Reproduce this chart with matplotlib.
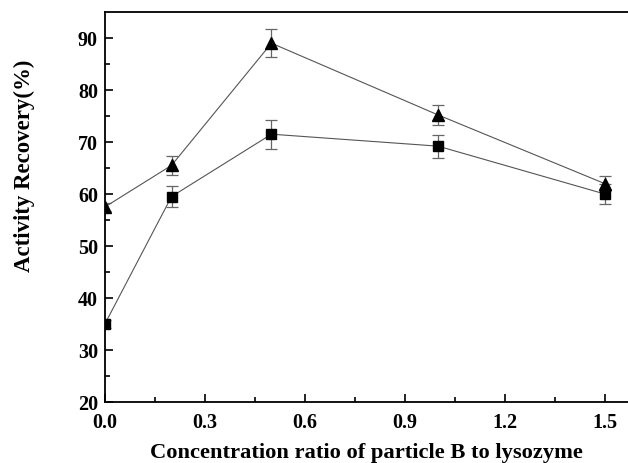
import matplotlib.pyplot as plt

ratio = [0.0, 0.2, 0.5, 1.0, 1.5]
tri_vals = [57.5, 65.5, 89.0, 75.2, 62.0]
tri_err = [0.8, 1.9, 2.7, 2.0, 1.5]
sq_vals = [35.0, 59.5, 71.5, 69.2, 60.0]
sq_err = [0.8, 2.0, 2.8, 2.2, 1.9]

plt.rcParams["font.family"] = ["Liberation Serif", "DejaVu Serif"]
plt.rcParams["font.weight"] = "bold"

fig = plt.figure(figsize=(6.28, 4.64), dpi=100)
ax = fig.add_axes([0.167, 0.1315, 0.833, 0.8405])

for vals, err, mk, ms in [(tri_vals, tri_err, "^", 8.5), (sq_vals, sq_err, "s", 7)]:
    ax.errorbar(ratio, vals, yerr=err, color="#555555", lw=0.8,
                marker=mk, ms=ms, mfc="black", mec="black",
                ecolor="#666666", elinewidth=0.9, capsize=4, capthick=0.9,
                zorder=3)

ax.set_xlim(0, 1.57)
ax.set_ylim(20, 95)
ax.set_xticks([0.0, 0.3, 0.6, 0.9, 1.2, 1.5])
ax.set_xticks([0.15, 0.45, 0.75, 1.05, 1.35], minor=True)
ax.set_yticks(range(20, 91, 10))
ax.set_yticks(range(25, 91, 10), minor=True)
ax.tick_params(direction="in", which="major", length=6, width=1.2, labelsize=14.5)
ax.tick_params(axis="x", which="major", pad=7)
ax.tick_params(axis="y", which="major", pad=5)
ax.tick_params(direction="in", which="minor", length=3.5, width=1.2)
ax.spines["right"].set_visible(False)
for s in ["left", "bottom", "top"]:
    ax.spines[s].set_linewidth(1.3)

ax.set_xlabel("Concentration ratio of particle B to lysozyme", fontsize=16.2,
              fontweight="bold", va="center")
ax.xaxis.set_label_coords(0.5, -0.128)
ax.set_ylabel("Activity Recovery(%)", fontsize=16.5, fontweight="bold", va="center")
ax.yaxis.set_label_coords(-0.153, 0.608)

fig.savefig("out.png", dpi=100)
